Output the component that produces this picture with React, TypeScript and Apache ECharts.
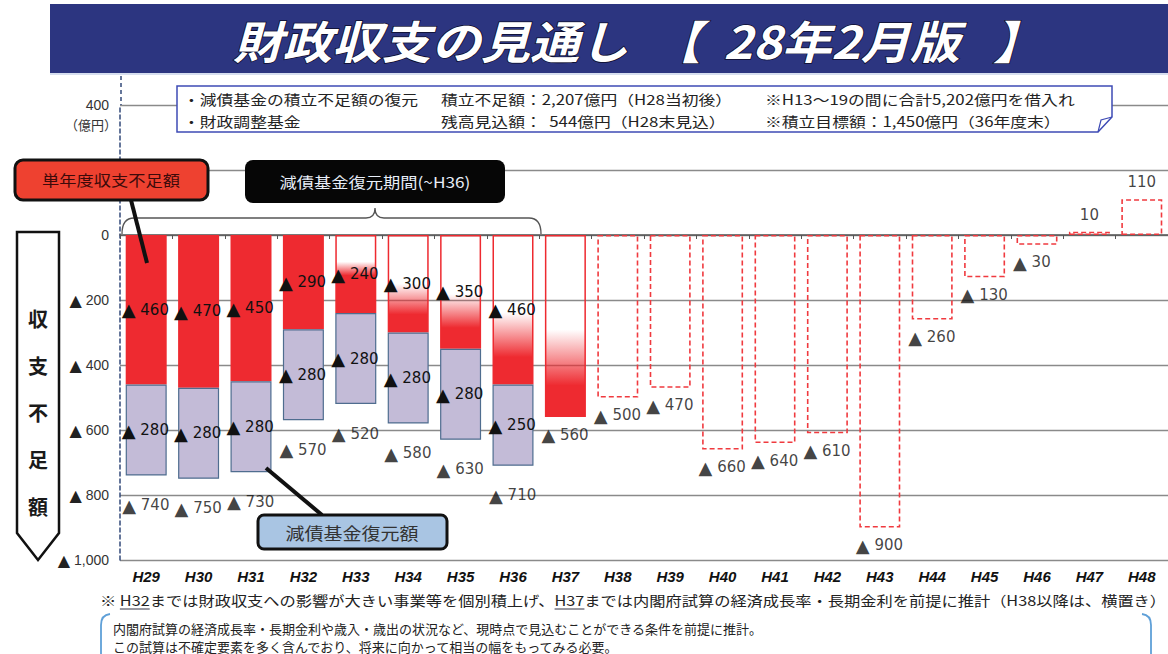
import React, { useEffect, useRef } from 'react';
import * as echarts from 'echarts';

// ---- data ----
const years = ['H29','H30','H31','H32','H33','H34','H35','H36','H37','H38','H39','H40','H41','H42','H43','H44','H45','H46','H47','H48'];
// 単年度収支 (億円): negative = 不足額 (▲)
const yearBalance = [-460,-470,-450,-290,-240,-300,-350,-460,-560,-500,-470,-660,-640,-610,-900,-260,-130,-30,10,110];
// 減債基金復元額 (億円)
const fundRestore: (number | null)[] = [280,280,280,280,280,280,280,250,null,null,null,null,null,null,null,null,null,null,null,null];
const yMin = -1000;
const yMax = 400;
const yStep = 200;
const fadeFrom = 'H33';        // bars that fade in (estimate-based) from here
const projectionFrom = 'H38';  // dashed projection bars from here

const titleText = '財政収支の見通し  【  28年2月版   】';
const infoRows = [
  ['・減債基金の積立不足額の復元', '積立不足額：2,207億円（H28当初後）', '※H13～19の間に合計5,202億円を借入れ'],
  ['・財政調整基金', '残高見込額：  544億円（H28末見込）', '※積立目標額：1,450億円（36年度末）'],
];
const unitText = '（億円）';
const axisTitle = '収支不足額';
const calloutShortfall = '単年度収支不足額';
const calloutPeriod = '減債基金復元期間(~H36)';
const calloutRestore = '減債基金復元額';
const notePre = '※ ';
const noteU1 = 'H32';
const noteMid = 'までは財政収支への影響が大きい事業等を個別積上げ、';
const noteU2 = 'H37';
const notePost = 'までは内閣府試算の経済成長率・長期金利を前提に推計（H38以降は、横置き）';
const boxLines = [
  '内閣府試算の経済成長率・長期金利や歳入・歳出の状況など、現時点で見込むことができる条件を前提に推計。',
  'この試算は不確定要素を多く含んでおり、将来に向かって相当の幅をもってみる必要。',
];

echarts.graphic.registerShape('brace', echarts.graphic.extendPath('M122,234 Q122,218 134,218 L366,218 Q375,218 375,208 Q375,218 384,218 L529,218 Q541,218 541,234', {}));
echarts.graphic.registerShape('bracketL', echarts.graphic.extendPath('M110,614 Q101,615 101,625 L101,660', {}));
echarts.graphic.registerShape('bracketR', echarts.graphic.extendPath('M1142,614 Q1151,615 1151,625 L1151,660', {}));

const JP = '"Noto Sans CJK JP", sans-serif';

function measure(text: string, size: number) {
  const c = document.createElement('canvas').getContext('2d');
  if (!c) return text.length * size;
  c.font = `${size}px "Noto Sans CJK JP"`;
  return c.measureText(text).width;
}

export default function App() {
  const ref = useRef<HTMLDivElement>(null);
  useEffect(() => {
    if (!ref.current) return;
    const chart = echarts.init(ref.current, undefined, { renderer: 'svg' });
    const RED = '#EE2A30';
    const RED0 = 'rgba(238,42,48,0)';
    const fadeStops: Record<string, [number, number]> = {
      H33: [0.34, 0.52], H34: [0.5, 0.82], H35: [0.52, 0.82], H36: [0.52, 0.82], H37: [0.52, 0.83],
    };
    const fadeIdx = years.indexOf(fadeFrom);
    const projIdx = years.indexOf(projectionFrom);
    const num = (v: number) => Math.abs(v).toLocaleString('en-US');
    const tri = (v: number) => (v < 0 ? '{t|▲} ' : '') + num(v);

    const redData = years.map((y, i) => {
      if (i >= projIdx) return '-';
      const item: any = { value: yearBalance[i] };
      if (i >= fadeIdx) {
        const [s, e] = fadeStops[y] || [0.5, 0.8];
        item.itemStyle = {
          color: { type: 'linear', x: 0, y: 0, x2: 0, y2: 1, colorStops: [
            { offset: 0, color: RED0 }, { offset: s, color: RED0 }, { offset: e, color: RED }, { offset: 1, color: RED }] },
          borderColor: RED, borderWidth: 1.5,
        };
      }
      if (fundRestore[i] == null) item.label = { show: false };
      return item;
    });
    const restoreData = years.map((_, i) => (fundRestore[i] == null ? '-' : -(fundRestore[i] as number)));
    const projData = years.map((_, i) => (i >= projIdx ? yearBalance[i] : '-'));
    const totals = years.map((_, i) => yearBalance[i] - (fundRestore[i] ?? 0));
    const totalData = totals.map((v, i) => ({
      value: v,
      label: v < 0
        ? { position: 'bottom', align: 'left', offset: [-24, fundRestore[i] != null ? 15 : 3] }
        : { position: 'top', align: 'center', offset: [0, -4] },
    }));

    const rich = { t: { fontSize: 18, fontFamily: 'DejaVu Sans', color: '#111' } };
    const labelStyle = { color: '#111', fontSize: 15, fontFamily: 'DejaVu Sans', rich };

    const x0 = 100;
    const noteSize = 14;
    const noteScale = 1.16;
    const w = (t: string) => measure(t, noteSize) * noteScale;
    const u1x = x0 + w(notePre);
    const u1w = w(noteU1);
    const u2x = x0 + w(notePre + noteU1 + noteMid);
    const u2w = w(noteU2);

    const jpText = (x: number, y: number, text: string, size: number, fill: string, extra: any = {}) => ({
      type: 'text', x, y, z: 20, scaleX: extra.scaleX ?? 1,
      style: { text, fill, fontSize: size, fontFamily: JP, align: extra.align ?? 'left', verticalAlign: 'middle', fontWeight: extra.fontWeight ?? 'normal' },
    });

    const graphics: any[] = [
      { type: 'rect', z: 5, shape: { x: 50, y: 4, width: 1118, height: 69 }, style: { fill: '#2C3580' } },
      { type: 'line', z: 5, shape: { x1: 50, y1: 74, x2: 1168, y2: 74 }, style: { stroke: '#c9d3ea', lineWidth: 1.5 } },
      { type: 'text', z: 20, x: 233, y: 39, scaleX: 1.1,
        style: { text: titleText, fill: '#ffffff', fontSize: 45, fontWeight: 'bold', fontStyle: 'italic', fontFamily: JP,
          align: 'left', verticalAlign: 'middle', stroke: '#0b0b2a', lineWidth: 1.5 } },
      { type: 'line', z: 5, shape: { x1: 121, y1: 76, x2: 121, y2: 105 }, style: { stroke: '#334a7a', lineWidth: 1.5, lineDash: [4, 3] } },
      // info box
      { type: 'polygon', z: 10, shape: { points: [[177, 86], [1112, 86], [1112, 117], [1098, 132], [177, 132]] },
        style: { fill: '#ffffff', stroke: '#3E4BB5', lineWidth: 1.5 } },
      { type: 'polyline', z: 10, shape: { points: [[1098, 132], [1101, 120], [1112, 117]] }, style: { fill: 'none', stroke: '#3E4BB5', lineWidth: 1.2 } },
      ...infoRows.flatMap((row, r) => row.map((t, c) => jpText([183, 441, 765][c], 99 + r * 22, t, 14, '#222', { scaleX: 1.2 }))),
      jpText(117, 124, unitText, 13, '#333', { align: 'right' }),
      // left arrow
      { type: 'polygon', z: 10, shape: { points: [[17, 232], [59, 232], [59, 533], [38, 560], [17, 533]] },
        style: { fill: '#ffffff', stroke: '#111', lineWidth: 2.5 } },
      { type: 'text', z: 20, x: 38, y: 412,
        style: { text: axisTitle.split('').join('\n'), fill: '#1a1a1a', fontSize: 20, fontWeight: 'bold', fontFamily: JP,
          lineHeight: 47, align: 'center', verticalAlign: 'middle' } },
      // red callout
      { type: 'line', z: 15, shape: { x1: 131, y1: 200, x2: 147, y2: 263 }, style: { stroke: '#111', lineWidth: 4 } },
      { type: 'rect', z: 16, shape: { x: 15, y: 160, width: 193, height: 40, r: 8 }, style: { fill: '#EE4130', stroke: '#111', lineWidth: 3 } },
      jpText(111, 180, calloutShortfall, 15, '#3d0a0a', { align: 'center', scaleX: 1.15 }),
      // black callout + brace
      { type: 'rect', z: 16, shape: { x: 245, y: 160, width: 260, height: 43, r: 8 }, style: { fill: '#060606' } },
      jpText(375, 182, calloutPeriod, 15, '#e8eef8', { align: 'center', scaleX: 1.15 }),
      { type: 'brace', z: 10, x: 0, y: 0, style: { fill: 'none', stroke: '#555', lineWidth: 1.3 } },
      // blue callout
      { type: 'line', z: 15, shape: { x1: 266, y1: 468, x2: 322, y2: 515 }, style: { stroke: '#111', lineWidth: 4 } },
      { type: 'rect', z: 16, shape: { x: 258, y: 515, width: 189, height: 34, r: 6 }, style: { fill: '#A9C5E3', stroke: '#111', lineWidth: 3 } },
      jpText(352, 532, calloutRestore, 17, '#333', { align: 'center', scaleX: 1.12 }),
      // notes
      jpText(x0, 600, notePre + noteU1 + noteMid + noteU2 + notePost, noteSize, '#222', { scaleX: noteScale }),
      { type: 'line', z: 20, shape: { x1: u1x, y1: 609, x2: u1x + u1w, y2: 609 }, style: { stroke: '#334', lineWidth: 1 } },
      { type: 'line', z: 20, shape: { x1: u2x, y1: 609, x2: u2x + u2w, y2: 609 }, style: { stroke: '#334', lineWidth: 1 } },
      { type: 'bracketL', z: 10, x: 0, y: 0, style: { fill: 'none', stroke: '#5FA0D8', lineWidth: 1.8 } },
      { type: 'bracketR', z: 10, x: 0, y: 0, style: { fill: 'none', stroke: '#5FA0D8', lineWidth: 1.8 } },
      ...boxLines.map((t, i) => jpText(113, 628 + i * 18, t, 13, '#222')),
    ];

    chart.setOption({
      animation: false,
      textStyle: { fontFamily: 'DejaVu Sans' },
      grid: { left: 120, top: 105, width: 1052, height: 455 },
      xAxis: [
        {
          type: 'category', data: years, position: 'bottom',
          axisLine: { onZero: true, lineStyle: { color: '#555', width: 1.5 } },
          axisTick: { show: true, length: 4, lineStyle: { color: '#555' } },
          axisLabel: { show: false },
        },
        {
          type: 'category', data: years, position: 'bottom',
          axisLine: { show: false, onZero: false }, axisTick: { show: false },
          axisLabel: { interval: 0, margin: 9, fontSize: 15, fontWeight: 'bold', fontStyle: 'italic', color: '#111', fontFamily: 'Liberation Sans' },
        },
      ],
      yAxis: {
        type: 'value', min: yMin, max: yMax, interval: yStep,
        axisLine: { show: true, lineStyle: { color: '#334a7a', width: 1.5, type: [4, 3] } },
        axisTick: { show: false },
        splitLine: { lineStyle: { color: '#8a8a8a', width: 1.3 } },
        axisLabel: {
          margin: 11, fontSize: 14, color: '#333', fontFamily: 'Liberation Sans',
          rich: { t: { fontSize: 16, fontFamily: 'DejaVu Sans', color: '#222' } },
          formatter: (v: number) => (v === 0 ? '0' : v < 0 ? tri(v) : v === yMax ? String(v) : ''),
        },
      },
      series: [
        {
          name: '単年度収支不足額', type: 'bar', stack: 't', barWidth: 41, data: redData,
          itemStyle: { color: RED },
          label: { show: true, position: 'insideLeft', distance: 0, offset: [-4, 0], formatter: (p: any) => tri(p.value), ...labelStyle },
        },
        {
          name: '減債基金復元額', type: 'bar', stack: 't', barWidth: 41, data: restoreData,
          itemStyle: { color: '#C3BBD7', borderColor: '#4F6D8F', borderWidth: 1.2 },
          label: { show: true, position: 'insideLeft', distance: 0, offset: [-4, 0], formatter: (p: any) => tri(p.value), ...labelStyle },
        },
        {
          name: '見通し', type: 'bar', stack: 't', barWidth: 41, data: projData,
          itemStyle: { color: 'rgba(0,0,0,0)', borderColor: '#F03A3F', borderWidth: 1.6, borderType: [5, 3] },
        },
        {
          name: '合計', type: 'scatter', data: totalData, symbolSize: 1, silent: true, z: 5,
          itemStyle: { color: 'rgba(0,0,0,0)' },
          label: { show: true, formatter: (p: any) => tri(p.value), ...labelStyle },
        },
      ],
      graphic: graphics,
    });
    return () => chart.dispose();
  }, []);
  return <div ref={ref} style={{ position: 'fixed', left: 0, top: 0, width: 1168, height: 654, background: '#fff' }} />;
}
